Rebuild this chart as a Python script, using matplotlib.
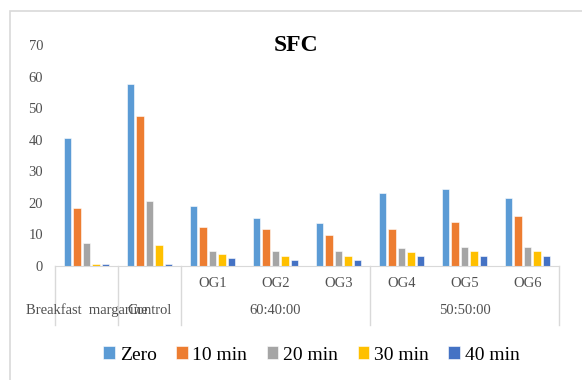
import matplotlib
matplotlib.use('Agg')
import matplotlib.pyplot as plt
from matplotlib.patches import Rectangle
import numpy as np

plt.rcParams['font.family'] = ['Liberation Serif', 'DejaVu Serif']

categories = ['Breakfast  margarine', 'Control', 'OG1', 'OG2', 'OG3', 'OG4', 'OG5', 'OG6']
series = ['Zero', '10 min', '20 min', '30 min', '40 min']
zero = [40.4, 57.5, 19.0, 15.2, 13.5, 23.1, 24.4, 21.4]
min10 = [18.4, 47.6, 12.2, 11.6, 9.8, 11.6, 14.0, 15.9]
min20 = [7.4, 20.7, 4.9, 4.9, 4.9, 5.6, 6.1, 6.1]
min30 = [0.5, 6.7, 3.7, 3.1, 3.1, 4.3, 4.8, 4.8]
min40 = [0.7, 0.6, 2.4, 1.8, 1.8, 3.1, 3.1, 3.1]
groups = [('60:40:00', 2, 4), ('50:50:00', 5, 7)]
colors = ['#5B9BD5', '#ED7D31', '#A5A5A5', '#FFC000', '#4472C4']

fig = plt.figure(figsize=(5.82, 3.80), dpi=100)
fig.patches.append(Rectangle((10 / 582, -0.1), 1.2, 1.1 - 11 / 380, transform=fig.transFigure,
                             fill=False, edgecolor='#D9D9D9', linewidth=1.2))
ax = fig.add_axes([0.0945, 0.30, 0.866, 0.5816])

x = np.arange(len(categories))
pitch = 0.15
width = 0.115
for i, (vals, name) in enumerate(zip([zero, min10, min20, min30, min40], series)):
    ax.bar(x + (i - 2) * pitch, vals, width, color=colors[i], label=name,
           edgecolor='white', linewidth=0.4)

ax.set_xlim(-0.5, len(categories) - 0.5)
ax.set_ylim(0, 70)
ax.set_yticks(range(0, 71, 10))
ax.tick_params(axis='y', length=0, labelsize=10.5, labelcolor='#505050', pad=8.6)
ax.set_xticks([])
for s in ['top', 'right', 'left']:
    ax.spines[s].set_visible(False)
ax.spines['bottom'].set_color('#D9D9D9')

# category separators below the axis
trans = ax.get_xaxis_transform()
for b in [-0.5, 0.5, 1.5, 4.5, 7.5]:
    ax.plot([b, b], [0, -0.265], transform=trans, color='#D9D9D9', lw=1, clip_on=False)

# two-level category labels
for i, c in enumerate(categories):
    yy = -0.2 if i < 2 else -0.08
    ax.text(i, yy, c, transform=trans, ha='center', va='center', fontsize=10.5, color='#505050')
for name, a, b in groups:
    ax.text((a + b) / 2, -0.2, name, transform=trans, ha='center', va='center',
            fontsize=10.5, color='#505050')

fig.text(0.509, 0.88, 'SFC', ha='center', va='center', fontsize=17, fontweight='bold')

ax.legend(loc='center', bbox_to_anchor=(0.535, 1 - 355 / 380), bbox_transform=fig.transFigure,
          ncol=5, frameon=False, prop={'family': 'Liberation Serif', 'size': 14},
          handlelength=0.6, handleheight=0.6, handletextpad=0.25, columnspacing=1.0)

fig.savefig('out.png', dpi=100)
